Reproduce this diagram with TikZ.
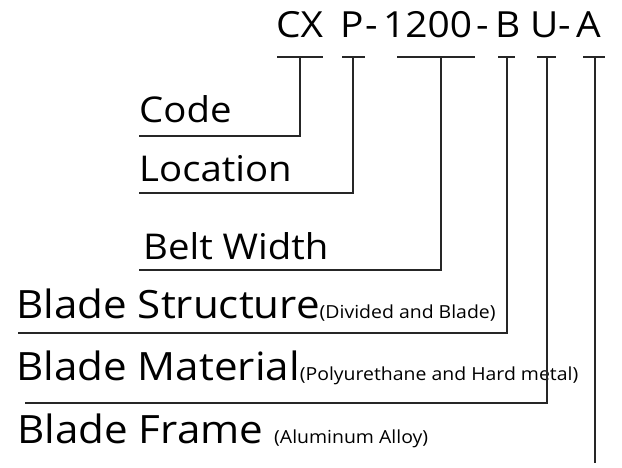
\documentclass[tikz,border=0pt]{standalone}
\usepackage{fontspec}
\setmainfont{Open Sans}[FakeStretch=1.08]
\newcommand{\smalltxt}[1]{{\fontsize{18}{18}\selectfont #1}}
\tikzset{
  codepart/.style={anchor=base west, inner sep=0pt, font=\fontsize{36}{36}\selectfont},
  lbl/.style={anchor=base west, inner sep=0pt, font=\fontsize{35.5}{36}\selectfont},
  biglbl/.style={anchor=base west, inner sep=0pt, font=\fontsize{39}{40}\selectfont},
  conn/.style={line width=1.1pt, draw=black!85},
}
\begin{document}
\begin{tikzpicture}[x=1pt,y=-1pt]
\useasboundingbox (0,0) rectangle (622,468);
% code string
\node[codepart] (cx)  at (276,38) {CX};
\node[codepart] (p)   at (340,38) {P};
\node[codepart] (h1)  at (365,38) {-};
\node[codepart] (num) at (383,38) {1200};
\node[codepart] (h2)  at (476,38) {-};
\node[codepart] (b)   at (495,38) {B};
\node[codepart] (u)   at (530,38) {U};
\node[codepart] (h3)  at (558,38) {-};
\node[codepart] (a)   at (576,38) {A};
% ticks
\coordinate (t1l) at (277,57); \coordinate (t1r) at (323,57); \coordinate (t1) at (300,57);
\coordinate (t2l) at (342,57); \coordinate (t2r) at (365,57); \coordinate (t2) at (353,57);
\coordinate (t3l) at (397,57); \coordinate (t3r) at (475,57); \coordinate (t3) at (441,57);
\coordinate (t4l) at (498,57); \coordinate (t4r) at (515,57); \coordinate (t4) at (507,57);
\coordinate (t5l) at (537,57); \coordinate (t5r) at (556,57); \coordinate (t5) at (547,57);
\coordinate (t6l) at (583,57); \coordinate (t6r) at (605,57); \coordinate (t6) at (595,57);
\foreach \i in {1,...,6} {\draw[conn] (t\i l) -- (t\i r);}
% labels
\node[lbl] (code) at (139,123) {Code};
\node[lbl] (loc) at (139,182) {Location};
\node[lbl] (belt) at (143,259) {Belt Width};
\node[biglbl] (struct) at (16,318) {Blade Structure\smalltxt{(Divided and Blade)}};
\node[biglbl] (mat) at (16,380) {Blade Material\smalltxt{(Polyurethane and Hard metal)}};
\node[biglbl] (frame) at (17,443) {Blade Frame \smalltxt{(Aluminum Alloy)}};
% underline ends
\coordinate (u1) at (139,136);
\coordinate (u2) at (139,193);
\coordinate (u3) at (139,270);
\coordinate (u4) at (18,333);
\coordinate (u5) at (25,403);
\coordinate (e6) at (595,463);
% connectors
\draw[conn] (t1) -- (t1 |- u1) -- (u1);
\draw[conn] (t2) -- (t2 |- u2) -- (u2);
\draw[conn] (t3) -- (t3 |- u3) -- (u3);
\draw[conn] (t4) -- (t4 |- u4) -- (u4);
\draw[conn] (t5) -- (t5 |- u5) -- (u5);
\draw[conn] (t6) -- (e6);
\end{tikzpicture}
\end{document}
